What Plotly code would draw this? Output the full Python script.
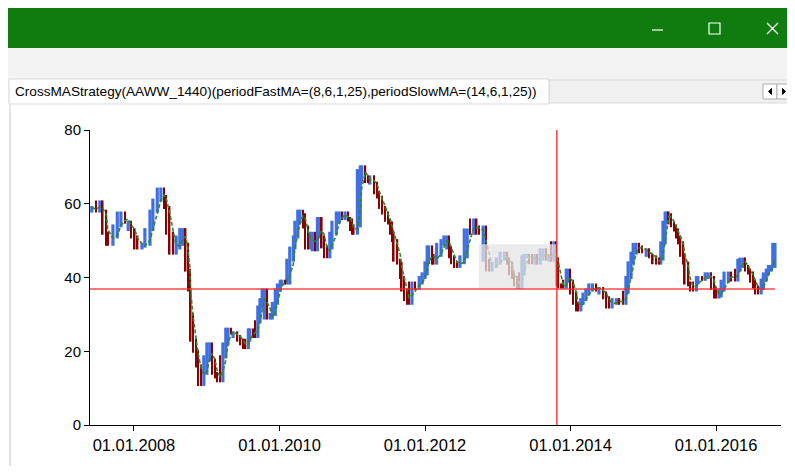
import pandas as pd
import plotly.graph_objects as go

# price readings: decimal year / close
years = [2007.42, 2007.48, 2007.53, 2007.57, 2007.62, 2007.64, 2007.71, 2007.77, 2007.82, 2007.88,
         2007.92, 2007.96, 2008.01, 2008.05, 2008.11, 2008.15, 2008.22, 2008.26, 2008.32, 2008.37,
         2008.41, 2008.44, 2008.49, 2008.54, 2008.58, 2008.63, 2008.67, 2008.71, 2008.74, 2008.77,
         2008.78, 2008.81, 2008.85, 2008.88, 2008.92, 2008.96, 2009.00, 2009.04, 2009.07, 2009.11,
         2009.14, 2009.18, 2009.22, 2009.26, 2009.29, 2009.33, 2009.36, 2009.42, 2009.46, 2009.50,
         2009.53, 2009.57, 2009.59, 2009.64, 2009.66, 2009.70, 2009.73, 2009.76, 2009.79, 2009.83,
         2009.87, 2009.90, 2009.94, 2009.97, 2010.01, 2010.03, 2010.08, 2010.10, 2010.14, 2010.19,
         2010.21, 2010.25, 2010.28, 2010.32, 2010.35, 2010.39, 2010.42, 2010.45, 2010.49, 2010.52,
         2010.54, 2010.58, 2010.61, 2010.65, 2010.69, 2010.72, 2010.78, 2010.82, 2010.86, 2010.90,
         2010.94, 2010.97, 2011.00, 2011.02, 2011.07, 2011.11, 2011.13, 2011.18, 2011.22, 2011.24,
         2011.30, 2011.34, 2011.37, 2011.41, 2011.45, 2011.49, 2011.52, 2011.55, 2011.57, 2011.62,
         2011.66, 2011.68, 2011.71, 2011.75, 2011.78, 2011.82, 2011.86, 2011.92, 2011.96, 2012.00,
         2012.03, 2012.05, 2012.10, 2012.12, 2012.16, 2012.22, 2012.26, 2012.30, 2012.33, 2012.36,
         2012.40, 2012.44, 2012.48, 2012.54, 2012.58, 2012.62, 2012.67, 2012.71, 2012.74, 2012.80,
         2012.84, 2012.88, 2012.92, 2012.98, 2013.03, 2013.09, 2013.13, 2013.15, 2013.20, 2013.22,
         2013.26, 2013.29, 2013.33, 2013.36, 2013.40, 2013.43, 2013.47, 2013.51, 2013.54, 2013.58,
         2013.62, 2013.66, 2013.70, 2013.73, 2013.77, 2013.80, 2013.83, 2013.87, 2013.90, 2013.94,
         2013.97, 2013.99, 2014.03, 2014.08, 2014.10, 2014.14, 2014.17, 2014.21, 2014.25, 2014.30,
         2014.35, 2014.39, 2014.45, 2014.49, 2014.53, 2014.57, 2014.63, 2014.67, 2014.72, 2014.76,
         2014.79, 2014.83, 2014.86, 2014.90, 2014.94, 2014.98, 2015.04, 2015.08, 2015.13, 2015.18,
         2015.22, 2015.24, 2015.27, 2015.30, 2015.33, 2015.35, 2015.38, 2015.42, 2015.45, 2015.48,
         2015.51, 2015.55, 2015.57, 2015.62, 2015.64, 2015.68, 2015.73, 2015.75, 2015.81, 2015.85,
         2015.89, 2015.93, 2015.97, 2016.00, 2016.04, 2016.07, 2016.11, 2016.17, 2016.21, 2016.26,
         2016.30, 2016.33, 2016.37, 2016.40, 2016.44, 2016.47, 2016.51, 2016.54, 2016.58, 2016.62,
         2016.65, 2016.69, 2016.72, 2016.76, 2016.78, 2016.81]
closes = [59, 58, 60.5, 58, 52, 49, 51, 54, 57.5, 55,
          55, 53, 51, 48, 48.5, 49, 53, 58, 61, 64,
          62, 59, 52, 46.6, 48, 51, 53, 49, 42, 36.6,
          30, 23, 20, 16, 11, 14, 18.5, 22, 17.6, 14,
          13, 12, 18.5, 22, 26, 25, 25, 24, 23, 22,
          21, 23, 25.8, 25, 24, 28, 32, 34, 36.6, 29,
          29, 30, 33, 36.6, 38, 39, 38.5, 38.5, 44.7, 48,
          51, 55, 58, 57, 53.7, 48, 50, 52, 47.5, 51,
          56, 51, 48.3, 45.6, 48, 52, 55, 57.5, 56, 57.5,
          56, 55.6, 53, 52, 54, 69, 70, 66.4, 66, 67.3,
          65.6, 63, 61.8, 59, 57.5, 55.5, 54.8, 52, 50, 44.7,
          43.9, 40, 36.6, 34, 33, 38.5, 37, 38.5, 40, 41,
          44, 48.3, 45, 43.9, 46, 49, 50, 51, 48, 45.6,
          44, 43, 44, 45.6, 52.9, 52, 55.6, 53, 52, 53.7,
          44.7, 42, 43, 43.9, 45, 46.6, 45, 43.9, 41, 40,
          38, 37.4, 41, 45.6, 46, 45.6, 44, 46, 43.9, 46,
          47.5, 45, 46, 44.7, 49.4, 45, 38, 37.5, 37.4, 39,
          42, 39, 35.8, 33, 31.2, 33, 34, 35.5, 36.6, 38,
          36.6, 37, 35.8, 34.5, 32, 33, 34, 33.5, 33, 36,
          40, 44, 46.6, 49, 48.3, 47, 47.5, 46, 45.6, 44,
          43.9, 45, 49.4, 55, 57.5, 57, 54.8, 54, 52.9, 51,
          49.4, 46, 43.9, 38.5, 38, 36.6, 38.5, 40, 39.5, 40,
          41, 40, 37, 34.7, 35, 36.6, 39, 41.2, 40, 39.3,
          42, 44.7, 45, 43, 42, 41.2, 39, 37.4, 35.8, 37,
          39.3, 41, 42, 43, 43, 49]

y_ticks = [0, 20, 40, 60, 80]
x_tick_years = [2008, 2010, 2012, 2014, 2016]
x_tick_labels = ['01.01.2008', '01.01.2010', '01.01.2012', '01.01.2014', '01.01.2016']

level_price = 36.9      # red horizontal cursor
cursor_year = 2013.81   # red vertical cursor
box_years = [2012.74, 2013.80]
box_prices = [37.0, 49.0]

tab_title = 'CrossMAStrategy(AAWW_1440)(periodFastMA=(8,6,1,25),periodSlowMA=(14,6,1,25))'

DAY_MS = 86400000


def to_date(y):
    year = int(y)
    return pd.Timestamp(year=year, month=1, day=1) + pd.Timedelta(days=(y - year) * 365.25)


df = pd.DataFrame({'date': [to_date(y) for y in years], 'close': closes})
df['open'] = df['close'].shift(1).fillna(df['close'])
df['high'] = df['close'].rolling(3, center=True, min_periods=1).max() + 0.4
df['low'] = df['close'].rolling(3, center=True, min_periods=1).min() - 0.4
df['ma'] = df['close'].rolling(3, min_periods=1).mean()
up = df[df['close'] >= df['open']]
down = df[df['close'] < df['open']]

# the page body has an 8px margin, so the figure starts at page (8, 8)
W, H = 787, 458
L, R, T, B = 90, 781, 130, 425   # plot area in page pixels


def px(x):
    return (x - L) / (R - L)


def py(y):
    return (B - y) / (B - T)


fig = go.Figure()
fig.add_trace(go.Bar(
    x=up['date'], y=up['high'] - up['low'], base=up['low'], width=16 * DAY_MS,
    marker=dict(color='#3f6fe0', line_width=0), showlegend=False, hoverinfo='skip'))
fig.add_trace(go.Bar(
    x=down['date'], y=down['high'] - down['low'], base=down['low'], width=8 * DAY_MS,
    marker=dict(color='#8b0000', line_width=0), showlegend=False, hoverinfo='skip'))
fig.add_trace(go.Scatter(
    x=df['date'], y=df['ma'], mode='lines',
    line=dict(color='#2a8a2a', width=1.6, dash='4px,2px'),
    showlegend=False, hoverinfo='skip'))

shapes = [
    # window chrome
    dict(type='rect', xref='paper', yref='paper', x0=px(0), x1=px(800), y0=py(8), y1=py(48),
         fillcolor='#107c10', line_width=0, layer='below'),
    dict(type='rect', xref='paper', yref='paper', x0=px(0), x1=px(800), y0=py(48), y1=py(103),
         fillcolor='#f3f3f3', line_width=0, layer='below'),
    dict(type='rect', xref='paper', yref='paper', x0=px(549), x1=px(800), y0=py(80), y1=py(103),
         fillcolor='#f0f0f0', line=dict(color='#d9d9d9', width=1), layer='below'),
    dict(type='rect', xref='paper', yref='paper', x0=px(9), x1=px(549), y0=py(79), y1=py(104),
         fillcolor='#ffffff', line=dict(color='#d9d9d9', width=1), layer='below'),
    dict(type='line', xref='paper', yref='paper', x0=px(10), x1=px(10), y0=py(104), y1=py(480),
         line=dict(color='#e3e3e3', width=2), layer='below'),
    # scroll buttons
    dict(type='rect', xref='paper', yref='paper', x0=px(763), x1=px(777), y0=py(84), y1=py(99),
         fillcolor='#ffffff', line=dict(color='#adadad', width=1)),
    dict(type='rect', xref='paper', yref='paper', x0=px(777), x1=px(791), y0=py(84), y1=py(99),
         fillcolor='#ffffff', line=dict(color='#adadad', width=1)),
    dict(type='path', xref='paper', yref='paper',
         path=f'M {px(771.5)} {py(88.5)} L {px(768.5)} {py(91.5)} L {px(771.5)} {py(94.5)} Z',
         fillcolor='black', line=dict(color='black', width=1)),
    dict(type='path', xref='paper', yref='paper',
         path=f'M {px(782.5)} {py(88.5)} L {px(785.5)} {py(91.5)} L {px(782.5)} {py(94.5)} Z',
         fillcolor='black', line=dict(color='black', width=1)),
    # caption buttons
    dict(type='line', xref='paper', yref='paper', x0=px(652), x1=px(663), y0=py(30), y1=py(30),
         line=dict(color='white', width=1.2)),
    dict(type='rect', xref='paper', yref='paper', x0=px(709), x1=px(720), y0=py(23), y1=py(34),
         line=dict(color='white', width=1.2)),
    dict(type='line', xref='paper', yref='paper', x0=px(767), x1=px(778), y0=py(23), y1=py(34),
         line=dict(color='white', width=1.2)),
    dict(type='line', xref='paper', yref='paper', x0=px(767), x1=px(778), y0=py(34), y1=py(23),
         line=dict(color='white', width=1.2)),
    # selection box over data
    dict(type='rect', xref='x', yref='y', x0=to_date(box_years[0]), x1=to_date(box_years[1]),
         y0=box_prices[0], y1=box_prices[1], fillcolor='rgba(228,228,228,0.75)', line_width=0,
         layer='above'),
    # cursors
    dict(type='line', xref='x', yref='y', x0=to_date(years[0]) - pd.Timedelta(days=15),
         x1=to_date(years[-1]), y0=level_price, y1=level_price,
         line=dict(color='rgba(255,40,40,0.85)', width=1.5)),
    dict(type='line', xref='x', yref='y', x0=to_date(cursor_year), x1=to_date(cursor_year),
         y0=0, y1=80, line=dict(color='rgba(255,40,40,0.9)', width=1.5)),
]

annotations = [
    dict(text=tab_title, xref='paper', yref='paper', x=px(13), y=py(91), xanchor='left',
         yanchor='middle', showarrow=False, font=dict(size=13.6, color='#000000')),
]

fig.update_layout(
    width=W, height=H,
    margin=dict(l=L - 8, r=W + 8 - R, t=T - 8, b=H + 8 - B),
    paper_bgcolor='white', plot_bgcolor='white',
    font=dict(family='Liberation Sans, Arial, sans-serif', size=15, color='#000000'),
    shapes=shapes, annotations=annotations,
    showlegend=False, barmode='overlay',
    xaxis=dict(
        type='date', range=[to_date(2007.395), to_date(2016.893)],
        tickvals=[pd.Timestamp(year=y, month=1, day=1) for y in x_tick_years],
        ticktext=x_tick_labels, ticks='outside', ticklen=5, tickcolor='black',
        showline=True, linecolor='black', linewidth=1, showgrid=False, zeroline=False,
        tickfont=dict(size=16.5)),
    yaxis=dict(
        range=[0, 80], tickvals=y_ticks, ticks='outside', ticklen=5, tickcolor='black',
        showline=True, linecolor='black', linewidth=1, showgrid=False, zeroline=False,
        tickfont=dict(size=15)),
)

fig.write_html("out.html")
